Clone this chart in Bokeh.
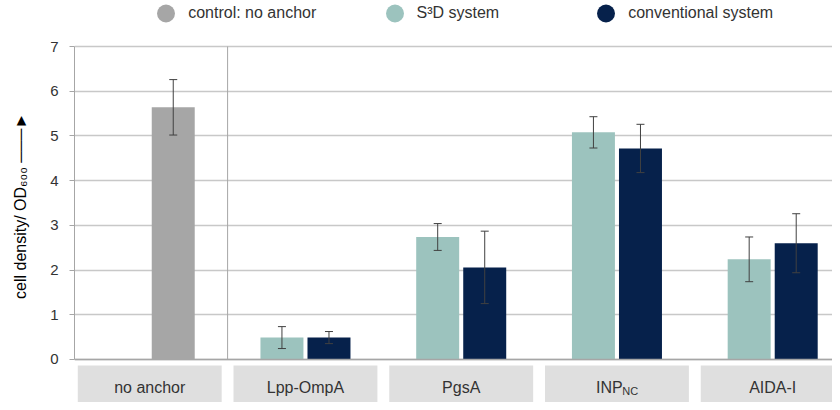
import numpy as np
from bokeh.plotting import figure
from bokeh.models import (ColumnDataSource, FixedTicker, Legend, LegendItem, Whisker,
                          TeeHead, Span, Range1d)
from bokeh.embed import file_html
from bokeh.resources import INLINE
from bokeh.core.properties import value

# ---------------- data ----------------
categories = ["no anchor", "Lpp-OmpA", "PgsA", "INP", "AIDA-I"]
category_subscripts = ["", "", "", "NC", ""]
series_names = ["control: no anchor", "S³D system", "conventional system"]

control_values = [5.64, None, None, None, None]
control_errors = [0.62, None, None, None, None]
s3d_values = [None, 0.49, 2.74, 5.08, 2.24]
s3d_errors = [None, 0.245, 0.30, 0.35, 0.50]
conv_values = [None, 0.49, 2.06, 4.72, 2.60]
conv_errors = [None, 0.135, 0.81, 0.54, 0.66]

y_ticks = [0, 1, 2, 3, 4, 5, 6, 7]
y_label = "cell density/ OD₆₀₀   ───►"

# ---------------- style ----------------
colors = ["#a6a6a6", "#9cc3be", "#06214b"]
offsets = [0.151, -0.151, 0.151]   # control drawn in the conventional slot
bar_width = 0.276
FONT = "Liberation Sans"
TXT = "#333333"

p = figure(width=832, height=402,
           x_range=Range1d(-0.483, 4.384), y_range=Range1d(-0.962, 8.029),
           output_backend="svg", toolbar_location=None, x_axis_location=None,
           min_border_left=74, min_border_right=0, min_border_top=0, min_border_bottom=0,
           outline_line_color=None, background_fill_color="white")

p.xgrid.visible = False
p.ygrid.grid_line_color = "#c8c8c8"
p.ygrid.grid_line_width = 1.5

ax = p.yaxis[0]
ax.ticker = FixedTicker(ticks=y_ticks)
ax.bounds = (min(y_ticks), max(y_ticks))
ax.axis_line_color = "#a6a6a6"
ax.major_tick_line_color = "#a6a6a6"
ax.major_tick_out = 5
ax.major_tick_in = 0
ax.minor_tick_out = 0
ax.minor_tick_in = 0
ax.major_label_standoff = 11
ax.major_label_text_font = FONT
ax.major_label_text_font_size = "15px"
ax.major_label_text_color = TXT
ax.axis_label = y_label
ax.axis_label_standoff = 18
ax.axis_label_text_font = FONT
ax.axis_label_text_font_size = "16px"
ax.axis_label_text_font_style = "normal"
ax.axis_label_text_color = "#000000"

# baseline
p.add_layout(Span(location=0, dimension="width", line_color="#a6a6a6", line_width=1.5))

# separator between control and anchor groups
p.segment(x0=[0.5], x1=[0.5], y0=[min(y_ticks)], y1=[max(y_ticks)],
          line_color="#a6a6a6", line_width=1)

# bars + error bars
all_series = [(control_values, control_errors), (s3d_values, s3d_errors), (conv_values, conv_errors)]
legend_renderers = []
for (vals, errs), col, off in zip(all_series, colors, offsets):
    xs, tops, up, lo = [], [], [], []
    for i, (v, e) in enumerate(zip(vals, errs)):
        if v is None:
            continue
        xs.append(i + off)
        tops.append(v)
        up.append(v + e)
        lo.append(v - e)
    src = ColumnDataSource(dict(x=xs, top=tops, upper=up, lower=lo))
    p.vbar(x="x", top="top", width=bar_width, source=src,
           fill_color=col, line_color=None)
    w = Whisker(source=src, base="x", upper="upper", lower="lower",
                line_color="#404040", line_width=1, level="annotation",
                upper_head=TeeHead(size=8, line_color="#404040", line_width=1),
                lower_head=TeeHead(size=8, line_color="#404040", line_width=1))
    p.add_layout(w)
    legend_renderers.append(
        p.scatter(x=[np.nan], y=[np.nan], marker="circle", size=20,
                  fill_color=col, line_color=None))

# category boxes
idx = list(range(len(categories)))
p.quad(left=[i - 0.462 for i in idx], right=[i + 0.462 for i in idx],
       top=[-0.134] * len(idx), bottom=[-1.074] * len(idx),
       fill_color="#dfdfdf", line_color=None)

main_w = [8.6 * len(c) for c in categories]
sub_w = [7.6 * len(s) for s in category_subscripts]
p.text(x=idx, y=[-0.626] * len(idx), text=categories,
       x_offset=[-sw / 2 for sw in sub_w],
       text_align="center", text_baseline="middle",
       text_font=value(FONT), text_font_size="16px", text_color=TXT)
sub_idx = [i for i in idx if category_subscripts[i]]
p.text(x=sub_idx, y=[-0.626] * len(sub_idx),
       text=[category_subscripts[i] for i in sub_idx],
       x_offset=[main_w[i] / 2 - sub_w[i] / 2 for i in sub_idx], y_offset=4,
       text_align="left", text_baseline="middle",
       text_font=value(FONT), text_font_size="11px", text_color=TXT)

# legends (one per series, placed along the top)
legend_x = [69.2, 297.5, 509.2]
for name, r, lx in zip(series_names, legend_renderers, legend_x):
    leg = Legend(items=[LegendItem(label=name, renderers=[r])],
                 location=(lx, 364.3), orientation="horizontal",
                 glyph_width=45, glyph_height=50, label_standoff=0,
                 padding=0, margin=0, spacing=0,
                 border_line_color=None, background_fill_alpha=0,
                 label_text_font=FONT, label_text_font_size="16px",
                 label_text_color=TXT)
    p.add_layout(leg)

open("out.html", "w").write(file_html(p, INLINE))
